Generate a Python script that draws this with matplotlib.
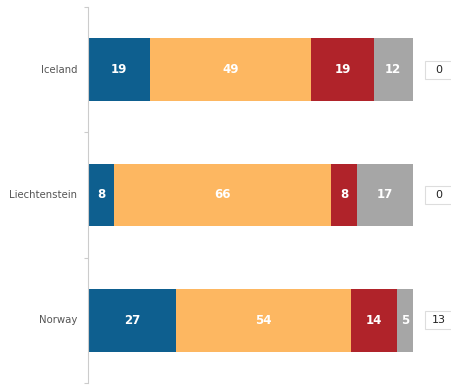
import matplotlib
matplotlib.use("Agg")
import matplotlib.pyplot as plt
from matplotlib.patches import Rectangle
import numpy as np

countries = ["Iceland", "Liechtenstein", "Norway"]
series_a = [19, 8, 27]
series_b = [49, 66, 54]
series_c = [19, 8, 14]
series_d = [12, 17, 5]
side_values = [0, 0, 13]
colors = ["#0e5f8f", "#fdb761", "#b0232a", "#a6a6a6"]

W, H = 452, 387
fig = plt.figure(figsize=(W / 100, H / 100), dpi=100)
ax = fig.add_axes([88 / W, (H - 383) / H, (413 - 88) / W, (383 - 7) / H])

data = np.array([series_a, series_b, series_c, series_d], dtype=float)
totals = data.sum(axis=0)
norm = data / totals * 100

y = np.arange(len(countries))
left = np.zeros(len(countries))
for i in range(data.shape[0]):
    ax.barh(y, norm[i], left=left, height=0.5, color=colors[i], edgecolor="none")
    for j in range(len(countries)):
        ax.text(left[j] + norm[i][j] / 2, y[j], f"{int(data[i][j])}", ha="center", va="center",
                color="white", fontsize=8.5, fontweight="bold", family="DejaVu Sans")
    left += norm[i]

for j, v in enumerate(side_values):
    ax.add_patch(Rectangle((103.7, y[j] - 0.072), 9.0, 0.144, facecolor="white",
                           edgecolor="#dddddd", linewidth=0.8, clip_on=False))
    ax.text(108.0, y[j], f"{v}", ha="center", va="center", fontsize=8, color="#222222",
            clip_on=False)

ax.set_xlim(0, 100)
ax.set_ylim(2.5, -0.5)
ax.set_yticks([-0.5, 0.5, 1.5, 2.5])
ax.set_yticklabels([])
ax.tick_params(axis="y", length=3, color="#cccccc", width=0.8)
for j, c in enumerate(countries):
    ax.text(-3.3, y[j], c, ha="right", va="center", fontsize=7.3, color="#555555")
ax.set_xticks([])
for s in ["top", "right", "bottom"]:
    ax.spines[s].set_visible(False)
ax.spines["left"].set_color("#cccccc")
ax.spines["left"].set_linewidth(0.8)

fig.savefig("out.png", dpi=100)
